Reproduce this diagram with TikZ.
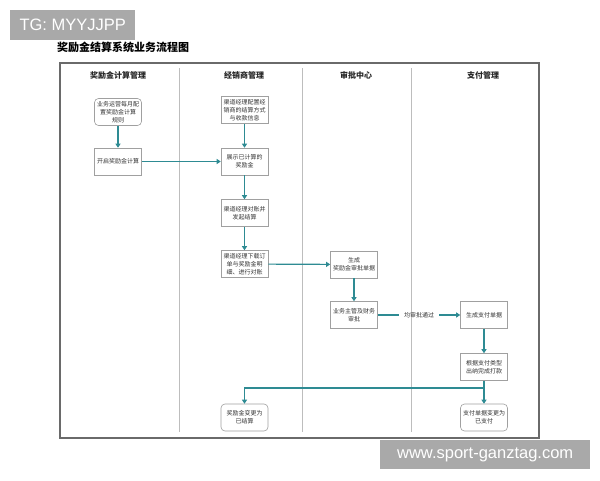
\documentclass[tikz,border=0pt]{standalone}
\usepackage{fontspec}
\setmainfont{Liberation Sans}
\newfontfamily\cjk{Noto Sans CJK SC}
\usetikzlibrary{arrows.meta}
\definecolor{teal1}{HTML}{2E8B93}
\definecolor{wmgray}{HTML}{A9A9A9}
\definecolor{framegray}{HTML}{6A6A6A}
\definecolor{lanegray}{HTML}{BDBDBD}
\definecolor{boxgray}{HTML}{A0A0A0}
\tikzset{
  stepbox/.style={draw=boxgray, line width=0.6pt, fill=white, minimum width=47pt, minimum height=27pt,
    inner sep=1pt, align=center, font=\cjk\fontsize{6}{8}\selectfont, text=black!80},
  roundbox/.style={stepbox, rounded corners=4pt},
  flow/.style={draw=teal1, line width=1.2pt, -{Triangle[width=5pt,length=4pt]}},
  flowplain/.style={draw=teal1, line width=1.2pt},
  lanehead/.style={font=\cjk\bfseries\fontsize{8}{9}\selectfont, text=black!85},
  laneline/.style={draw=lanegray, line width=0.8pt},
  wmbox/.style={fill=wmgray, draw=none, text=white, inner sep=0pt}
}
\begin{document}
\begin{tikzpicture}[x=1pt,y=-1pt]
\useasboundingbox (0,0) rectangle (600,480);
\fill[white] (0,0) rectangle (600,480);
% watermark top
\node[wmbox, minimum width=125pt, minimum height=30pt, anchor=north west, font=\fontsize{16.5}{18}\selectfont] (wm1) at (10,10) {TG: MYYJJPP};
% title
\node[anchor=west, font=\cjk\bfseries\fontsize{11}{12}\selectfont, inner sep=0pt] (title) at (57,47) {奖励金结算系统业务流程图};
% frame
\draw[framegray, line width=1.6pt] (60,63) rectangle (539,438);
% lanes
\draw[laneline] (179,68) -- (179,432);
\draw[laneline] (302,68) -- (302,432);
\draw[laneline] (411,68) -- (411,432);
\node[lanehead] (h1) at (118,75) {奖励金计算管理};
\node[lanehead] (h2) at (244,75) {经销商管理};
\node[lanehead] (h3) at (356,75) {审批中心};
\node[lanehead] (h4) at (483,75) {支付管理};
% nodes
\node[roundbox] (n1) at (118,112) {业务运营每月配\\置奖励金计算\\规则};
\node[stepbox] (n2) at (118,161.5) {开启奖励金计算};
\node[stepbox] (n3) at (244.5,110) {渠道经理配置经\\销商的结算方式\\与收款信息};
\node[stepbox] (n4) at (244.5,161.5) {展示已计算的\\奖励金};
\node[stepbox] (n5) at (244.5,213) {渠道经理对账并\\发起结算};
\node[stepbox] (n6) at (244.5,264) {渠道经理下载订\\单与奖励金明\\细、进行对账};
\node[stepbox] (n7) at (354,264.5) {生成\\奖励金审批单据};
\node[stepbox] (n8) at (354,315) {业务主管及财务\\审批};
\node[stepbox] (n9) at (484,315) {生成支付单据};
\node[stepbox] (n10) at (484,367) {根据支付类型\\出纳完成打款};
\node[roundbox] (n11) at (244.5,417.5) {奖励金变更为\\已结算};
\node[roundbox] (n12) at (484,417.5) {支付单据变更为\\已支付};
% connectors
\draw[flow] (n1) -- (n2);
\draw[flow] (n2) -- (n4);
\draw[flow] (n3) -- (n4);
\draw[flow] (n4) -- (n5);
\draw[flow] (n5) -- (n6);
\draw[flow] (n6) -- (n7);
\draw[flow] (n7) -- (n8);
\node[font=\cjk\fontsize{6}{8}\selectfont, text=black!80, inner sep=0pt] (lbl) at (419,315) {均审批通过};
\draw[flowplain] (n8.east) -- ([xshift=-5pt]lbl.west);
\draw[flow] ([xshift=5pt]lbl.east) -- (n9.west);
\draw[flow] (n9) -- (n10);
\draw[flow] (n10) -- (n12);
\coordinate (br) at (484,388);
\draw[flow] (br) -| (n11.north);
% watermark bottom
\node[wmbox, minimum width=210pt, minimum height=29pt, anchor=north west, font=\fontsize{16.5}{18}\selectfont] (wm2) at (380,440) {www.sport-ganztag.com};
\end{tikzpicture}
\end{document}
